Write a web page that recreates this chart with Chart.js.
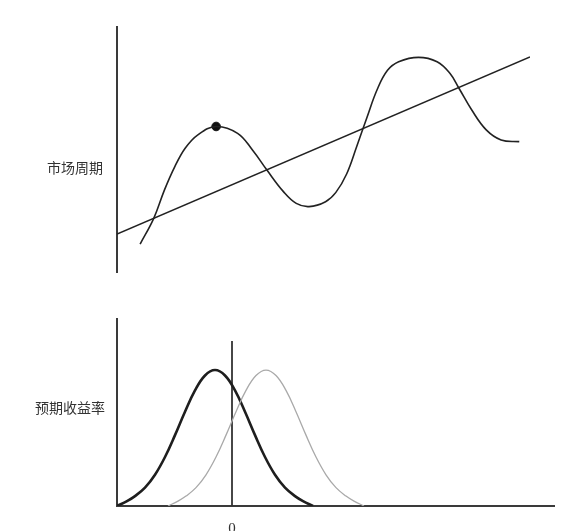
<!DOCTYPE html>
<html>
<head>
<meta charset="utf-8">
<script src="https://cdn.jsdelivr.net/npm/chart.js@4.4.1/dist/chart.umd.min.js"></script>
<style>
  html, body { margin:0; padding:0; background:#fff; width:570px; height:531px; overflow:hidden; }
  canvas { position:absolute; left:0; }
  .lbl { position:absolute; font-family:"Noto Sans CJK SC", sans-serif; font-size:14px; color:#333; white-space:nowrap; line-height:16px; }
</style>
</head>
<body>
<canvas id="topChart" width="570" height="290" style="top:0px"></canvas>
<canvas id="botChart" width="570" height="245" style="top:300px"></canvas>
<div class="lbl" style="left:47px; top:159px;">市场周期</div>
<div class="lbl" style="left:35px; top:399px;">预期收益率</div>
<script>
// ---------- data: top chart (market cycle) ----------
const waveX = [5.6, 8.9, 11.5, 14.0, 16.5, 19.5, 24.0, 29.2, 32.8, 36.3, 40.3, 43.4, 46.5, 50.5, 53.0, 55.6, 58.0, 60.5, 63.0, 65.5, 68.2, 73.0, 77.5, 80.6, 82.8, 85.9, 89.4, 93.0, 97.4];
const waveY = [11.4, 21.9, 33.5, 43.0, 50.5, 55.9, 59.4, 56.6, 49.8, 41.6, 32.8, 28.0, 26.7, 28.7, 32.5, 40.0, 51.0, 63.0, 74.5, 82.3, 85.8, 87.6, 85.8, 81.1, 75.0, 66.1, 58.0, 53.9, 53.2];
const trendX = [0, 100];
const trendY = [15.5, 87.8];
const dotX = [24.0];
const dotY = [59.4];

// ---------- data: bottom chart (expected return) ----------
const darkX = [-11.5, -10.5, -9.7, -8.7, -7.7, -6.7, -5.7, -4.7, -3.7, -2.7, -1.7, -0.7, 0.3, 1.3, 2.3, 3.3, 4.3, 5.3, 6.3, 7.1, 8.1];
const darkY = [0, 2.6, 5.3, 9.8, 16.7, 26.2, 37.9, 50.4, 61.8, 69.8, 72.7, 69.8, 61.8, 50.4, 37.9, 26.2, 16.7, 9.8, 5.3, 2.6, 0];
const grayX = [-6.4, -5.4, -4.6, -3.6, -2.6, -1.6, -0.6, 0.4, 1.4, 2.4, 3.4, 4.4, 5.4, 6.4, 7.4, 8.4, 9.4, 10.4, 11.4, 12.2, 13.2];
const grayY = [0, 2.6, 5.3, 9.8, 16.7, 26.2, 37.9, 50.4, 61.8, 69.8, 72.7, 69.8, 61.8, 50.4, 37.9, 26.2, 16.7, 9.8, 5.3, 2.6, 0];
const zeroLineX = [0, 0];
const zeroLineY = [0, 88.2];
const xTickValues = [0];
const xTickLabels = ['0'];

const pts = (xs, ys) => xs.map((x, i) => ({ x: x, y: ys[i] }));

const hiddenAxisY = {
  type: 'linear', min: 0, max: 100,
  grid: { display: false, drawTicks: false },
  ticks: { display: false },
  border: { display: true, color: '#3a3a3a', width: 2 },
  afterFit(s) { s.width = 0; }
};

new Chart(document.getElementById('topChart'), {
  type: 'line',
  data: {
    datasets: [
      { data: pts(waveX, waveY), borderColor: '#222', borderWidth: 1.6, pointRadius: 0, tension: 0.4, fill: false },
      { data: pts(trendX, trendY), borderColor: '#222', borderWidth: 1.6, pointRadius: 0, tension: 0, fill: false },
      { type: 'scatter', data: pts(dotX, dotY), pointRadius: 4.3, pointBackgroundColor: '#111', pointBorderColor: '#111', showLine: false }
    ]
  },
  options: {
    responsive: false, animation: false,
    layout: { padding: { left: 117, right: 40, top: 27, bottom: 18 } },
    plugins: { legend: { display: false }, tooltip: { enabled: false } },
    scales: {
      x: { type: 'linear', min: 0, max: 100, display: false },
      y: hiddenAxisY
    }
  }
});

new Chart(document.getElementById('botChart'), {
  type: 'line',
  data: {
    datasets: [
      { data: pts(grayX, grayY), borderColor: '#a9a9a9', borderWidth: 1.3, pointRadius: 0, tension: 0.4, fill: false },
      { data: pts(darkX, darkY), borderColor: '#1e1e1e', borderWidth: 2.6, pointRadius: 0, tension: 0.4, fill: false },
      { data: pts(zeroLineX, zeroLineY), borderColor: '#333', borderWidth: 1.8, pointRadius: 0, tension: 0, fill: false }
    ]
  },
  options: {
    responsive: false, animation: false,
    layout: { padding: { left: 117, right: 16, top: 19, bottom: 0 } },
    plugins: { legend: { display: false }, tooltip: { enabled: false } },
    scales: {
      x: {
        type: 'linear', min: -11.5, max: 32.2,
        grid: { display: false, drawTicks: false },
        border: { display: true, color: '#3a3a3a', width: 2 },
        ticks: {
          display: true, autoSkip: false, maxRotation: 0, padding: 14,
          color: '#333', font: { family: 'Liberation Serif', size: 15 },
          callback: (v) => { const i = xTickValues.indexOf(v); return i >= 0 ? xTickLabels[i] : ''; }
        },
        afterBuildTicks(s) { s.ticks = xTickValues.map(v => ({ value: v })); },
        afterFit(s) { s.height = 39; }
      },
      y: Object.assign({}, hiddenAxisY)
    }
  }
});
</script>
</body>
</html>
